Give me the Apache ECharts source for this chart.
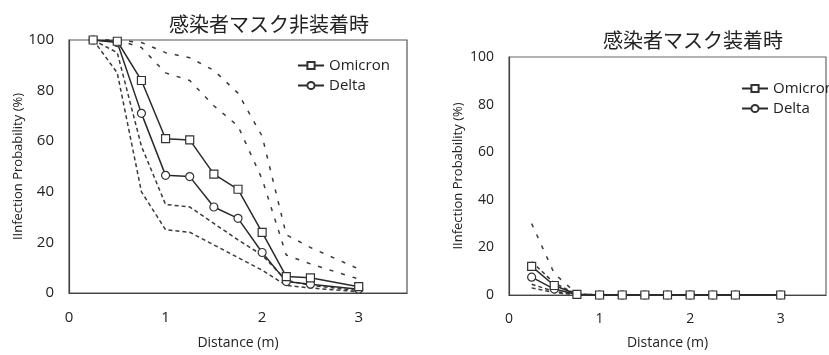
<!DOCTYPE html>
<html>
<head>
<meta charset="utf-8">
<script src="https://cdn.jsdelivr.net/npm/echarts@6/dist/echarts.min.js"></script>
<style>
html,body{margin:0;padding:0;background:#fff;}
#chart{width:829px;height:355px;}
</style>
</head>
<body>
<div id="chart"></div>
<script>
// ---- data ----
const distances = [0.25, 0.5, 0.75, 1, 1.25, 1.5, 1.75, 2, 2.25, 2.5, 3];

// Left panel: 感染者マスク非装着時 (infected person without mask)
const noMaskOmicron = [100, 99.5, 84, 61, 60.5, 47, 41, 24, 6.5, 6, 2.5];
const noMaskDelta   = [100, 99, 71, 46.5, 46, 34, 29.5, 16, 4.5, 3.5, 1.5];
const noMaskUpperA  = [100, 100, 99, 95, 93, 88, 79, 62, 23, 18, 9.5];
const noMaskUpperB  = [100, 100, 97, 87, 84, 74, 66, 45, 15, 11.5, 5.5];
const noMaskLowerC  = [100, 95, 58, 35, 34, 27.5, 21, 15, 5, 3, 1];
const noMaskLowerD  = [100, 87, 40, 25, 24, 19, 14, 9, 3, 2, 0.5];

// Right panel: 感染者マスク装着時 (infected person with mask)
const maskOmicron = [12, 4, 0.3, 0, 0, 0, 0, 0, 0, 0, 0];
const maskDelta   = [7.5, 2.5, 0.2, 0, 0, 0, 0, 0, 0, 0, 0];
const maskUpperA  = [30, 9, 0.5, 0, 0, 0, 0, 0, 0, 0, 0];
const maskUpperB  = [14, 5, 0.4, 0, 0, 0, 0, 0, 0, 0, 0];
const maskLowerC  = [4.5, 1.5, 0.2, 0, 0, 0, 0, 0, 0, 0, 0];
const maskLowerD  = [3, 1, 0.1, 0, 0, 0, 0, 0, 0, 0, 0];

const titles = ['感染者マスク非装着時', '感染者マスク装着時'];
const legendNames = ['Omicron', 'Delta'];
const xTicks = [0, 1, 2, 3];
const yTicks = [0, 20, 40, 60, 80, 100];
const xName = 'Distance (m)';
const yName = 'IInfection Probability (%)';

// ---- chart ----
const latin = "'Open Sans', 'DejaVu Sans', sans-serif";
const cjk = "'Noto Sans CJK JP', sans-serif";
const pairs = arr => arr.map((v, i) => [distances[i], v]);

function dashed(name, arr, idx, dash) {
  return {
    name: name, type: 'line', xAxisIndex: idx, yAxisIndex: idx,
    data: pairs(arr), symbol: 'none', silent: true,
    lineStyle: {color: '#3a3a3a', width: 1.5, type: dash}, z: 2
  };
}
function solid(name, arr, idx, sym) {
  return {
    name: name, type: 'line', xAxisIndex: idx, yAxisIndex: idx,
    data: pairs(arr), symbol: sym, symbolSize: 8,
    lineStyle: {color: '#2a2a2a', width: 1.5},
    itemStyle: {color: '#ffffff', borderColor: '#333', borderWidth: 1.2}, z: 3
  };
}
function xAxis(idx, fs, margin, gap) {
  return {
    gridIndex: idx, type: 'value', min: 0, max: 3.5, interval: 1,
    axisLine: {show: true, lineStyle: {color: '#444', width: 1.2}},
    axisTick: {show: false}, splitLine: {show: false},
    axisLabel: {fontSize: fs, color: '#222', fontFamily: latin, margin: margin,
      formatter: v => (xTicks.indexOf(v) >= 0 ? String(v) : '')},
    name: xName, nameLocation: 'middle', nameGap: gap,
    nameTextStyle: {fontSize: 14, color: '#222', fontFamily: latin}
  };
}
function yAxis(idx, fs, gap) {
  return {
    gridIndex: idx, type: 'value', min: 0, max: 100, interval: 20,
    axisLine: {show: true, lineStyle: {color: '#444', width: 1.2}},
    axisTick: {show: false}, splitLine: {show: false},
    axisLabel: {fontSize: fs, color: '#222', fontFamily: latin, margin: 15,
      formatter: v => (yTicks.indexOf(v) >= 0 ? String(v) : '')},
    name: yName, nameLocation: 'middle', nameGap: gap,
    nameTextStyle: {fontSize: 13, color: '#222', fontFamily: latin}
  };
}
function legend(left, top) {
  return {
    data: legendNames, orient: 'vertical', left: left, top: top,
    itemWidth: 26, itemHeight: 9, itemGap: 5, selectedMode: false,
    textStyle: {fontSize: 15, color: '#222', fontFamily: latin}
  };
}

const chart = echarts.init(document.getElementById('chart'), null, {renderer: 'canvas'});
chart.setOption({
  animation: false,
  backgroundColor: '#ffffff',
  title: [
    {text: titles[0], left: 264, top: 9, textAlign: 'center',
     textStyle: {fontSize: 20, fontWeight: 'normal', color: '#222', fontFamily: cjk}},
    {text: titles[1], left: 688, top: 25, textAlign: 'center',
     textStyle: {fontSize: 20, fontWeight: 'normal', color: '#222', fontFamily: cjk}}
  ],
  legend: [legend(292, 53), legend(736, 76)],
  grid: [
    {left: 69, top: 40, width: 338, height: 253, show: true, borderColor: '#555', borderWidth: 1.2},
    {left: 509, top: 57, width: 337, height: 243, show: true, borderColor: '#666', borderWidth: 1.2}
  ],
  xAxis: [xAxis(0, 15, 17, 43), xAxis(1, 14, 17, 41)],
  yAxis: [yAxis(0, 15, 40), yAxis(1, 14, 44)],
  series: [
    dashed('Omicron upper', noMaskUpperA, 0, [4, 8]),
    dashed('Delta upper', noMaskUpperB, 0, [4, 8]),
    dashed('Omicron lower', noMaskLowerC, 0, [4, 3]),
    dashed('Delta lower', noMaskLowerD, 0, [4, 3]),
    solid('Delta', noMaskDelta, 0, 'circle'),
    solid('Omicron', noMaskOmicron, 0, 'rect'),
    dashed('Omicron upper', maskUpperA, 1, [4, 8]),
    dashed('Delta upper', maskUpperB, 1, [4, 3]),
    dashed('Omicron lower', maskLowerC, 1, [4, 3]),
    dashed('Delta lower', maskLowerD, 1, [4, 3]),
    solid('Delta', maskDelta, 1, 'circle'),
    solid('Omicron', maskOmicron, 1, 'rect')
  ]
});
</script>
</body>
</html>
